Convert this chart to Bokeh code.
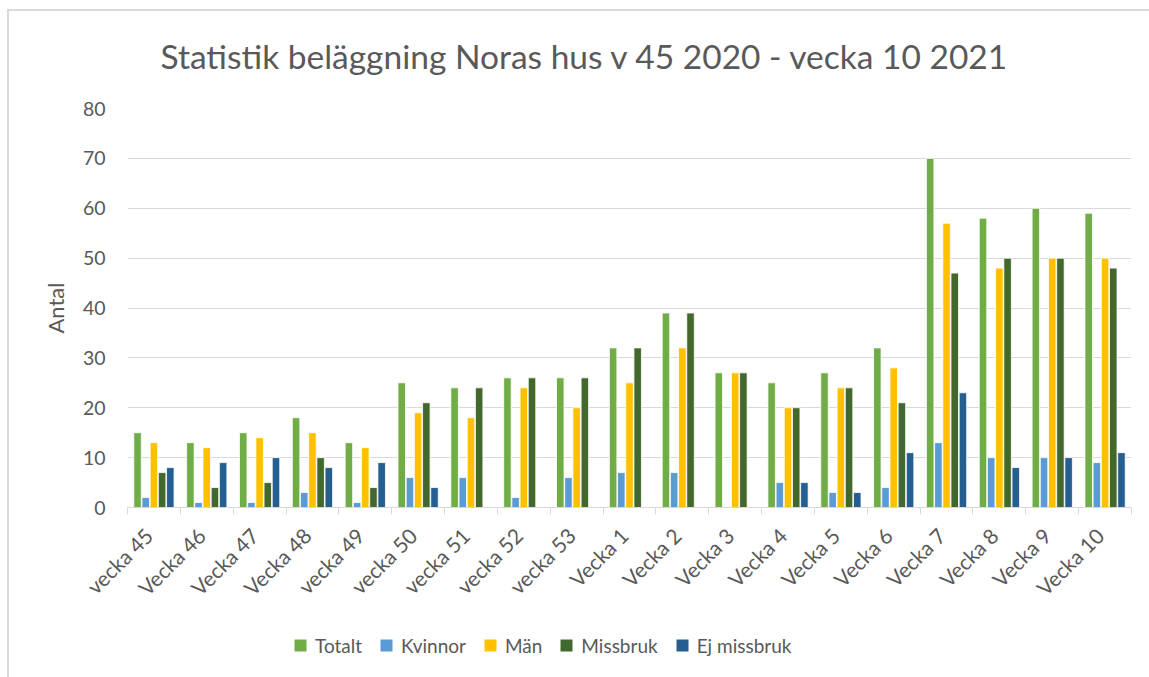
import math
from bokeh.plotting import figure
from bokeh.layouts import column
from bokeh.models import (ColumnDataSource, FixedTicker, Legend, LegendItem, Range1d)
from bokeh.transform import dodge
from bokeh.embed import file_html
from bokeh.resources import INLINE

weeks = ["vecka 45", "Vecka 46", "Vecka 47", "Vecka 48", "vecka 49", "vecka 50", "vecka 51",
         "vecka 52", "vecka 53", "Vecka 1", "Vecka 2", "Vecka 3", "Vecka 4", "Vecka 5",
         "Vecka 6", "Vecka 7", "Vecka 8", "Vecka 9", "Vecka 10"]
totalt = [15, 13, 15, 18, 13, 25, 24, 26, 26, 32, 39, 27, 25, 27, 32, 70, 58, 60, 59]
kvinnor = [2, 1, 1, 3, 1, 6, 6, 2, 6, 7, 7, None, 5, 3, 4, 13, 10, 10, 9]
man = [13, 12, 14, 15, 12, 19, 18, 24, 20, 25, 32, 27, 20, 24, 28, 57, 48, 50, 50]
missbruk = [7, 4, 5, 10, 4, 21, 24, 26, 26, 32, 39, 27, 20, 24, 21, 47, 50, 50, 48]
ej_missbruk = [8, 9, 10, 8, 9, 4, None, None, None, None, None, None, 5, 3, 11, 23, 8, 10, 11]
y_ticks = [0, 10, 20, 30, 40, 50, 60, 70, 80]

series_names = ["Totalt", "Kvinnor", "Män", "Missbruk", "Ej missbruk"]
series_vals = [totalt, kvinnor, man, missbruk, ej_missbruk]
colors = ["#70AD47", "#5B9BD5", "#FFC000", "#43682B", "#255E91"]

FONT = "Lato"
GREY = "#595959"

n = len(weeks)
centers = [i + 0.5 for i in range(n)]

W = 1149
H_MAIN = 617
H_LEG = 60

p = figure(width=W, height=H_MAIN, output_backend="svg", toolbar_location=None,
           x_range=Range1d(0, n), y_range=Range1d(0, 80),
           min_border_left=127, min_border_right=18, min_border_top=108,
           min_border_bottom=110)
p.outline_line_color = None
p.background_fill_color = "white"
p.border_fill_color = None

# title
p.title.text = "Statistik beläggning Noras hus v 45 2020 - vecka 10 2021"
p.title.text_font = FONT
p.title.text_font_size = "33.5px"
p.title.text_font_style = "normal"
p.title.text_color = GREY
p.title.align = "left"
p.title.offset = 33
p.title.standoff = 66

pitch = 0.155
offsets = [(k - 2) * pitch for k in range(5)]
for name, vals, col, off in zip(series_names, series_vals, colors, offsets):
    xs = [c for c, v in zip(centers, vals) if v is not None]
    ys = [v for v in vals if v is not None]
    src = ColumnDataSource(dict(x=xs, y=ys))
    p.vbar(x=dodge("x", off), top="y", width=0.142, bottom=0, source=src,
           fill_color=col, line_color="white", line_width=0.8)

# axes
label_pos = [c - 0.1 for c in centers]
p.xaxis.ticker = FixedTicker(ticks=label_pos, minor_ticks=list(range(n + 1)))
p.xaxis.major_label_overrides = {c: w for c, w in zip(label_pos, weeks)}
p.xaxis.major_label_orientation = math.pi / 4
p.xaxis.major_tick_out = 0
p.xaxis.major_tick_in = 0
p.xaxis.minor_tick_out = 7
p.xaxis.minor_tick_in = 0
p.xaxis.minor_tick_line_color = "#D9D9D9"
p.xaxis.axis_line_color = "#D9D9D9"
p.xaxis.axis_line_width = 1
p.xaxis.major_label_text_font = FONT
p.xaxis.major_label_text_font_size = "21px"
p.xaxis.major_label_text_color = GREY
p.xaxis.major_label_standoff = 17

p.yaxis.ticker = FixedTicker(ticks=y_ticks)
p.yaxis.axis_line_color = None
p.yaxis.major_tick_line_color = None
p.yaxis.major_tick_out = 0
p.yaxis.major_tick_in = 0
p.yaxis.minor_tick_line_color = None
p.yaxis.minor_tick_out = 0
p.yaxis.major_label_text_font = FONT
p.yaxis.major_label_text_font_size = "19.5px"
p.yaxis.major_label_text_color = GREY
p.yaxis.major_label_standoff = 22
p.yaxis.axis_label = "Antal"
p.yaxis.axis_label_text_font = FONT
p.yaxis.axis_label_text_font_size = "22px"
p.yaxis.axis_label_text_font_style = "normal"
p.yaxis.axis_label_text_color = GREY
p.yaxis.axis_label_standoff = 11

p.xgrid.grid_line_color = None
p.ygrid.grid_line_color = "#D9D9D9"
p.ygrid.grid_line_width = 1

# legend strip below the chart
q = figure(width=W, height=H_LEG, output_backend="svg", toolbar_location=None,
           x_range=Range1d(0, 1), y_range=Range1d(0, 1),
           x_axis_type=None, y_axis_type=None,
           min_border_left=0, min_border_right=0, min_border_top=0, min_border_bottom=0)
q.outline_line_color = None
q.border_fill_color = None
q.background_fill_color = None
q.xgrid.visible = False
q.ygrid.visible = False
legend_renderers = []
for col in colors:
    # zero-size helper marker: only provides the legend swatch
    r = q.scatter(x=[0.5], y=[0.5], size=0, marker="square", fill_color=col, line_color=None)
    legend_renderers.append(r)

legend = Legend(items=[LegendItem(label=nm, renderers=[r]) for nm, r in zip(series_names, legend_renderers)],
                orientation="horizontal", location=(158, 17),
                label_text_font=FONT, label_text_font_size="19px", label_text_color=GREY,
                glyph_width=30, glyph_height=30, label_standoff=0, spacing=9,
                padding=0, margin=0, border_line_color=None, background_fill_alpha=0)
q.add_layout(legend, "center")

layout = column(p, q, spacing=0)
# thin light-grey chart-area border along the top and left edges
layout.styles = {
    "background-color": "white",
    "box-shadow": ("inset 0 9px 0 0 #FFFFFF, inset 7px 0 0 0 #FFFFFF, "
                   "inset 0 11px 0 0 #D9D9D9, inset 9px 0 0 0 #D9D9D9"),
}
open("out.html", "w").write(file_html(layout, INLINE))
